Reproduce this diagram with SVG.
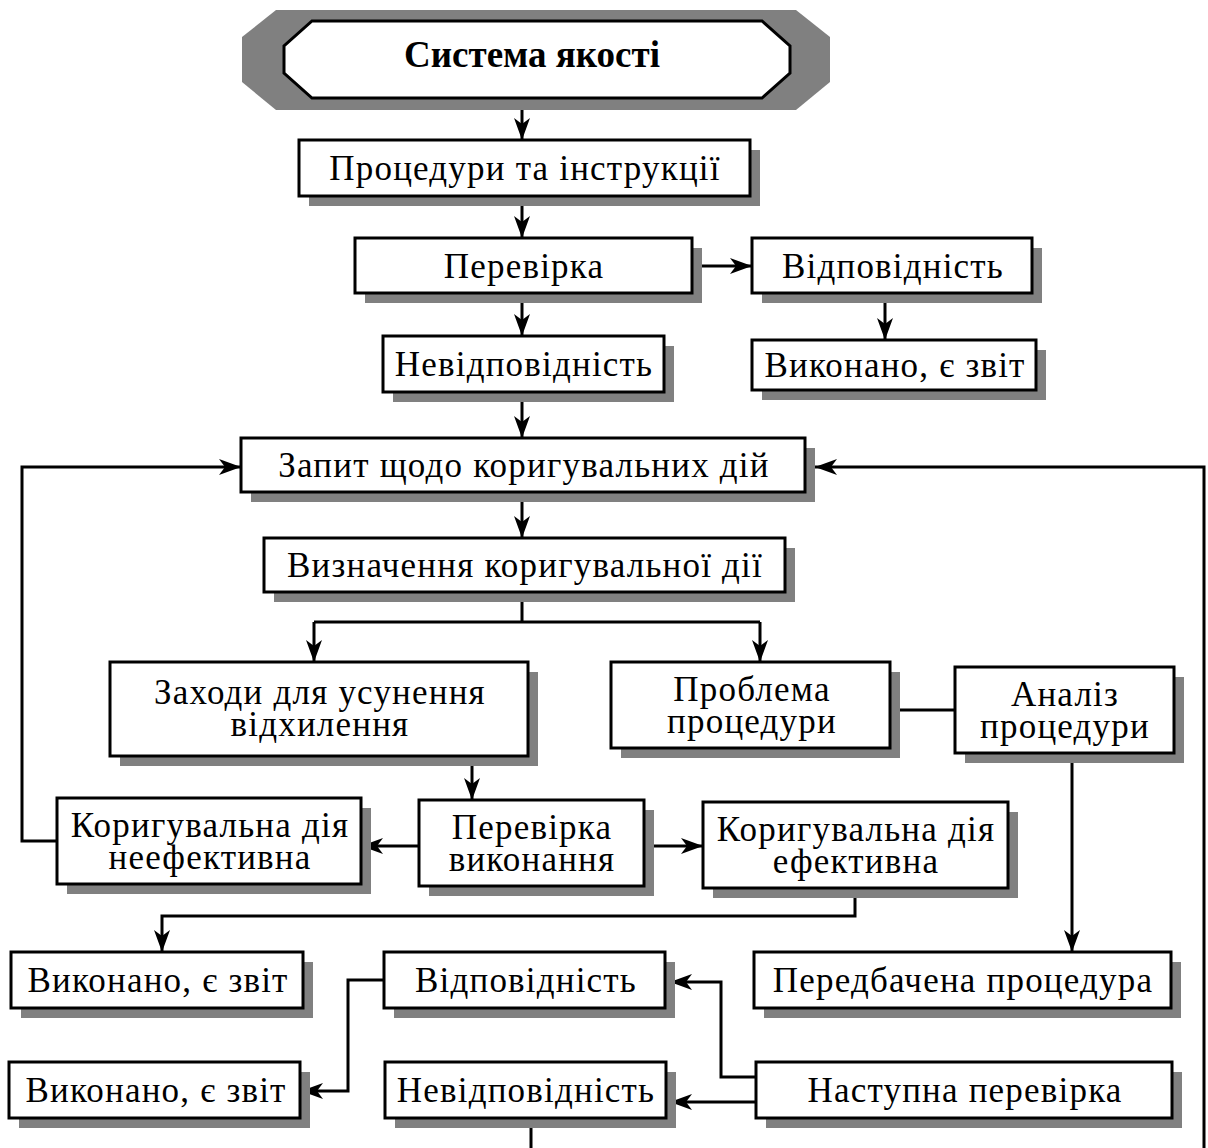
<svg xmlns="http://www.w3.org/2000/svg" width="1208" height="1148" viewBox="0 0 1208 1148">
  <style>
    .shadow { fill: #808080; }
    .box { fill: #ffffff; stroke: #000000; stroke-width: 3; }
    .label { font-family: "Liberation Serif", "Times New Roman", serif; font-size: 35px; letter-spacing: 1.2px; fill: #000000; text-anchor: middle; }
    .title { font-family: "Liberation Serif", "Times New Roman", serif; font-size: 37px; font-weight: bold; fill: #000000; text-anchor: middle; }
    .wire { fill: none; stroke: #000000; stroke-width: 3; }
    .arrow { marker-end: url(#head); }
  </style>
  <defs>
    <marker id="head" viewBox="0 0 22 16" refX="22" refY="8" markerWidth="22" markerHeight="16" markerUnits="userSpaceOnUse" orient="auto">
      <path d="M0,0 L22,8 L0,16 L6,8 Z" fill="#000000"/>
    </marker>
  </defs>

  <rect width="1208" height="1148" fill="#ffffff"/>

  <!-- connectors -->
  <g id="connectors">
    <path class="wire arrow" d="M522,99 V140"/>
    <path class="wire arrow" d="M522,196 V238"/>
    <path class="wire arrow" d="M694,266 H752"/>
    <path class="wire arrow" d="M885,293 V340"/>
    <path class="wire arrow" d="M522,293 V336"/>
    <path class="wire arrow" d="M522,392 V438"/>
    <path class="wire arrow" d="M522,492 V538"/>
    <path class="wire" d="M522,592 V622 M314,622 H760"/>
    <path class="wire arrow" d="M314,622 V662"/>
    <path class="wire arrow" d="M760,622 V662"/>
    <path class="wire" d="M890,710 H955"/>
    <path class="wire arrow" d="M1072,763 V952"/>
    <path class="wire arrow" d="M472,766 V800"/>
    <path class="wire arrow" d="M419,846 H361"/>
    <path class="wire arrow" d="M654,846 H703"/>
    <path class="wire arrow" d="M57,841 H22 V467 H241"/>
    <path class="wire arrow" d="M1204,1148 V467 H815"/>
    <path class="wire arrow" d="M855,898 V916 H162 V952"/>
    <path class="wire arrow" d="M383,980 H348 V1091 H301"/>
    <path class="wire arrow" d="M755,1077 H721 V982 H670"/>
    <path class="wire arrow" d="M755,1102 H670"/>
    <path class="wire" d="M531,1127 V1148"/>
  </g>

  <!-- title plate -->
  <g id="n-system">
    <polygon class="shadow" points="276,10 796,10 830,37 830,82 796,110 276,110 242,82 242,37"/>
    <polygon class="box" points="312,21 762,21 790,46 790,73 762,98 312,98 284,73 284,46"/>
    <text class="title" x="532" y="67">Система якості</text>
  </g>

  <g id="n-procedures">
    <rect class="shadow" x="309" y="150" width="451" height="56"/>
    <rect class="box" x="299" y="140" width="451" height="56"/>
    <text class="label" x="525" y="180">Процедури та інструкції</text>
  </g>

  <g id="n-check">
    <rect class="shadow" x="365" y="248" width="337" height="55"/>
    <rect class="box" x="355" y="238" width="337" height="55"/>
    <text class="label" x="524" y="278">Перевірка</text>
  </g>

  <g id="n-conform-top">
    <rect class="shadow" x="762" y="248" width="280" height="55"/>
    <rect class="box" x="752" y="238" width="280" height="55"/>
    <text class="label" x="893" y="278">Відповідність</text>
  </g>

  <g id="n-done-top">
    <rect class="shadow" x="762" y="350" width="284" height="50"/>
    <rect class="box" x="752" y="340" width="284" height="50"/>
    <text class="label" x="895" y="377">Виконано, є звіт</text>
  </g>

  <g id="n-nonconform-top">
    <rect class="shadow" x="393" y="346" width="281" height="56"/>
    <rect class="box" x="383" y="336" width="281" height="56"/>
    <text class="label" x="524" y="376">Невідповідність</text>
  </g>

  <g id="n-request">
    <rect class="shadow" x="251" y="448" width="564" height="54"/>
    <rect class="box" x="241" y="438" width="564" height="54"/>
    <text class="label" x="524" y="477">Запит щодо коригувальних дій</text>
  </g>

  <g id="n-define">
    <rect class="shadow" x="274" y="548" width="521" height="54"/>
    <rect class="box" x="264" y="538" width="521" height="54"/>
    <text class="label" x="525" y="577">Визначення коригувальної дії</text>
  </g>

  <g id="n-measures">
    <rect class="shadow" x="120" y="672" width="418" height="94"/>
    <rect class="box" x="110" y="662" width="418" height="94"/>
    <text class="label" x="320" y="704">Заходи для усунення</text>
    <text class="label" x="320" y="736">відхилення</text>
  </g>

  <g id="n-problem">
    <rect class="shadow" x="621" y="672" width="279" height="86"/>
    <rect class="box" x="611" y="662" width="279" height="86"/>
    <text class="label" x="752" y="701">Проблема</text>
    <text class="label" x="752" y="733">процедури</text>
  </g>

  <g id="n-analysis">
    <rect class="shadow" x="965" y="677" width="219" height="86"/>
    <rect class="box" x="955" y="667" width="219" height="86"/>
    <text class="label" x="1065" y="706">Аналіз</text>
    <text class="label" x="1065" y="738">процедури</text>
  </g>

  <g id="n-ineffective">
    <rect class="shadow" x="67" y="808" width="304" height="86"/>
    <rect class="box" x="57" y="798" width="304" height="86"/>
    <text class="label" x="210" y="837">Коригувальна дія</text>
    <text class="label" x="210" y="869">неефективна</text>
  </g>

  <g id="n-verify">
    <rect class="shadow" x="429" y="810" width="225" height="86"/>
    <rect class="box" x="419" y="800" width="225" height="86"/>
    <text class="label" x="532" y="839">Перевірка</text>
    <text class="label" x="532" y="871">виконання</text>
  </g>

  <g id="n-effective">
    <rect class="shadow" x="713" y="812" width="305" height="86"/>
    <rect class="box" x="703" y="802" width="305" height="86"/>
    <text class="label" x="856" y="841">Коригувальна дія</text>
    <text class="label" x="856" y="873">ефективна</text>
  </g>

  <g id="n-done-a">
    <rect class="shadow" x="21" y="962" width="292" height="56"/>
    <rect class="box" x="11" y="952" width="292" height="56"/>
    <text class="label" x="158" y="992">Виконано, є звіт</text>
  </g>

  <g id="n-conform-bottom">
    <rect class="shadow" x="394" y="962" width="281" height="56"/>
    <rect class="box" x="384" y="952" width="281" height="56"/>
    <text class="label" x="526" y="992">Відповідність</text>
  </g>

  <g id="n-planned">
    <rect class="shadow" x="764" y="962" width="417" height="56"/>
    <rect class="box" x="754" y="952" width="417" height="56"/>
    <text class="label" x="963" y="992">Передбачена процедура</text>
  </g>

  <g id="n-done-b">
    <rect class="shadow" x="19" y="1072" width="291" height="56"/>
    <rect class="box" x="9" y="1062" width="291" height="56"/>
    <text class="label" x="156" y="1102">Виконано, є звіт</text>
  </g>

  <g id="n-nonconform-bottom">
    <rect class="shadow" x="395" y="1072" width="281" height="56"/>
    <rect class="box" x="385" y="1062" width="281" height="56"/>
    <text class="label" x="526" y="1102">Невідповідність</text>
  </g>

  <g id="n-next-check">
    <rect class="shadow" x="766" y="1072" width="416" height="56"/>
    <rect class="box" x="756" y="1062" width="416" height="56"/>
    <text class="label" x="965" y="1102">Наступна перевірка</text>
  </g>
</svg>
